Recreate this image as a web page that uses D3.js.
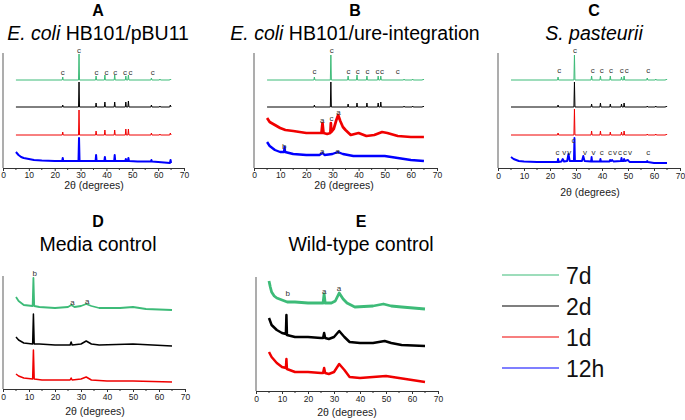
<!DOCTYPE html>
<html><head><meta charset="utf-8">
<script src="https://cdn.jsdelivr.net/npm/d3@7/dist/d3.min.js"></script>
<style>body{margin:0;background:#fff}svg{display:block}text{font-family:Arial,"Liberation Sans",sans-serif}</style>
</head><body>
<svg id="chart" width="685" height="420"></svg>
<script>
// ---------- DATA (2θ in degrees, intensity in a.u.) ----------
const seriesNames = ["7d", "2d", "1d", "12h"];
const xTicks = [0, 10, 20, 30, 40, 50, 60, 70];
const axisTitle = "2θ (degrees)";

// Panel A: E. coli HB101/pBU11
const A_7d = [[5,88],[22.9,88],[23.1,91],[23.3,88],[29.2,88],[29.4,114],[29.6,88],[35.8,88],[36,92],[36.2,88],[39.2,88],[39.4,93],[39.6,88],[43,88],[43.2,93],[43.4,88],[47.3,88],[47.5,92],[47.7,88],[48.3,88],[48.5,93],[48.7,88],[57.2,88],[57.4,90],[57.6,88],[60.5,88],[60.7,89],[60.9,88],[64.5,88],[64.7,89],[65,88]];
const A_2d = [[5,61],[22.9,61],[23.1,63],[23.3,61],[29.2,61],[29.4,86],[29.6,61],[35.8,61],[36,65],[36.2,61],[39.2,61],[39.4,66],[39.6,61],[43,61],[43.2,66],[43.4,61],[47.3,61],[47.5,66],[47.7,61],[48.3,61],[48.5,67],[48.7,61],[57.2,61],[57.4,63],[57.6,61],[60.5,61],[60.7,62],[60.9,61],[64.5,61],[64.7,63],[65,61]];
const A_1d = [[5,33],[22.9,33],[23.1,36],[23.3,33],[29.2,33],[29.4,58],[29.6,33],[35.8,33],[36,37],[36.2,33],[39.2,33],[39.4,38],[39.6,33],[43,33],[43.2,38],[43.4,33],[47.3,33],[47.5,39],[47.7,33],[48.3,33],[48.5,39],[48.7,33],[57.2,33],[57.4,35],[57.6,33],[60.5,33],[60.7,34],[60.9,33],[64.5,33],[64.7,35],[65,33]];
const A_12h = [[5,16],[6,13],[7,11],[8,10],[10,9],[12,8],[15,7.5],[20,7],[22.9,7],[23.1,10],[23.3,7],[29.2,7],[29.4,30],[29.6,7],[35.8,7],[36,13],[36.2,7],[39.2,7],[39.4,11],[39.6,7],[43,7],[43.2,13],[43.4,7],[47.3,7],[47.5,9],[47.7,7],[48.3,7],[48.5,10],[48.7,7],[52,6.5],[57.2,6.5],[57.4,8],[57.6,6.5],[60,6],[64.6,5],[64.8,8],[65,5]];
const A_labels = [[29.4,118,"c"],[23.1,96,"c"],[36.2,96,"c"],[40.0,96,"c"],[43.4,96,"c"],[47.2,96,"c"],[49.3,96,"c"],[57.9,96,"c"]];

// Panel B: E. coli HB101/ure-integration
const B_7d = [[5,88],[22.9,88],[23.1,91],[23.3,88],[29.2,88],[29.4,113],[29.6,88],[35.8,88],[36,92],[36.2,88],[39.2,88],[39.4,93],[39.6,88],[43,88],[43.2,92],[43.4,88],[47.3,88],[47.5,92],[47.7,88],[48.3,88],[48.5,92],[48.7,88],[57.2,88],[57.4,89],[57.6,88],[60.5,88],[60.7,89],[60.9,88],[64.5,88],[64.7,89],[65,88]];
const B_2d = [[5,61],[22.9,61],[23.1,63],[23.3,61],[29.2,61],[29.4,86],[29.6,61],[35.8,61],[36,64],[36.2,61],[39.2,61],[39.4,65],[39.6,61],[43,61],[43.2,65],[43.4,61],[47.3,61],[47.5,65],[47.7,61],[48.3,61],[48.5,66],[48.7,61],[57.2,61],[57.4,62],[57.6,61],[60.5,61],[60.7,62],[60.9,61],[64.5,61],[64.7,62],[65,61]];
const B_1d = [[5,50],[6,46],[8,43],[10,40],[12,38],[15,37],[20,35],[25,35],[25.8,35],[26.2,45],[26.6,35],[28,34],[29.2,35],[29.4,45],[29.6,36],[30.5,39],[31.5,48],[32.2,53],[33,47],[34,41],[35,38],[37,33],[40,35],[43,32],[46,33],[49,36],[51,35],[55,32],[60,31],[65,31]];
const B_12h = [[5,26],[6,22],[8,18],[10,16],[11.5,16],[11.7,21],[11.9,16],[15,14],[20,13],[25,13],[26.2,15],[27,13],[30,14],[32,16],[34,14],[38,12],[45,12],[50,12],[55,10],[60,8],[65,7]];
const B_labels = [[29.7,118,"c"],[23.1,97,"c"],[36.1,97,"c"],[39.7,97,"c"],[43.4,97,"c"],[47.2,97,"c"],[49.0,97,"c"],[55.0,97,"c"],
                  [26.1,48,"a"],[29.6,50,"c"],[32.3,56,"a"],[11.6,22,"b"],[26.1,17,"a"],[32.0,17,"a"]];

// Panel C: S. pasteurii
const C_7d = [[5,88],[22.9,88],[23.1,91],[23.3,88],[29.2,88],[29.4,113],[29.6,88],[35.8,88],[36,92],[36.2,88],[39.2,88],[39.4,92],[39.6,88],[43,88],[43.2,92],[43.4,88],[47.3,88],[47.5,91],[47.7,88],[48.3,88],[48.5,92],[48.7,88],[57.2,88],[57.4,90],[57.6,88],[60.5,88],[60.7,89],[60.9,88],[64.5,88],[64.7,89],[65,88]];
const C_2d = [[5,61],[22.9,61],[23.1,63],[23.3,61],[29.2,61],[29.4,86],[29.6,61],[35.8,61],[36,64],[36.2,61],[39.2,61],[39.4,65],[39.6,61],[43,61],[43.2,64],[43.4,61],[47.3,61],[47.5,64],[47.7,61],[48.3,61],[48.5,65],[48.7,61],[57.2,61],[57.4,62],[57.6,61],[60.5,61],[60.7,62],[60.9,61],[64.5,61],[64.7,62],[65,61]];
const C_1d = [[5,33],[22.9,33],[23.1,35],[23.3,33],[29.2,33],[29.4,59],[29.6,33],[35.8,33],[36,37],[36.2,33],[39.2,33],[39.4,37],[39.6,33],[43,33],[43.2,36],[43.4,33],[47.3,33],[47.5,36],[47.7,33],[48.3,33],[48.5,37],[48.7,33],[57.2,33],[57.4,34],[57.6,33],[60.5,33],[60.7,34],[60.9,33],[64.5,33],[64.7,34],[65,33]];
const C_12h = [[5,11],[6,9],[8,7],[10,6.5],[15,6],[22.9,6],[23.1,9],[23.3,6],[24.4,6.5],[24.9,9],[25.4,6.5],[26.6,7],[27.1,14],[27.6,7],[29.2,7],[29.4,30],[29.6,7],[32.3,7],[32.8,12],[33.3,7],[35.8,6.5],[36,11],[36.2,6.5],[39.2,6.5],[39.4,9],[39.6,6.5],[42.9,6.5],[43.1,8],[43.5,7],[43.9,8],[44.4,6.5],[47.3,7],[47.5,10],[47.7,7],[48.3,7],[48.5,9],[48.8,7],[50,8],[50.6,6],[57.2,6],[57.4,7],[57.6,6],[60,5],[65,5]];
const C_labels = [[29.6,118,"c"],[23.6,98,"c"],[36.4,98,"c"],[39.9,98,"c"],[43.5,98,"c"],[47.6,98,"c"],[49.5,98,"c"],[57.8,98,"c"],
                  [29.0,28,"c"],[22.9,16,"c"],[25.5,16,"v"],[27.4,16,"v"],[33.5,16,"v"],[36.7,16,"v"],[39.9,16,"c"],[43.1,16,"c"],[45.0,16,"v"],[46.9,16,"c"],[48.8,16,"c"],[50.8,16,"v"],[57.8,16,"c"]];

// Panel D: Media control
const D_7d = [[5,92],[6,88],[8,84],[11.4,83],[11.7,111],[12,83],[14,82],[20,81],[25,82],[26.3,84],[27.5,82],[30,83],[32,85],[34,83],[37,81],[45,81],[50,82],[55,80],[65,79]];
const D_2d = [[5,52],[6,49],[8,46],[11.4,45],[11.7,75],[12,45],[14,45],[20,44],[25.8,44],[26.2,47],[26.6,44],[30,45],[32,48],[34,45],[37,44],[50,45],[65,43]];
const D_1d = [[5,15],[6,13],[8,11],[11.4,10],[11.7,39],[12,10],[15,9],[25.8,9],[26.2,11],[26.6,9],[30,10],[32,12],[34,9],[40,8],[50,8],[65,7]];
const D_labels = [[12.2,116,"b"],[26.7,87,"a"],[32.4,88,"a"]];

// Panel E: Wild-type control
const E_7d = [[5,110],[5.5,104],[6,99],[7,95],[8,93],[10,91],[12,89],[15,89],[20,88],[25,88],[25.8,88],[26.2,97],[26.6,88],[29,88],[30.5,90],[32,98],[33.5,92],[35,88],[38,84],[45,85],[49,87],[52,85],[56,84],[65,82]];
const E_2d = [[5,73],[6,66],[8,61],[10,58],[11.5,57],[11.7,76],[11.9,56],[15,54],[20,54],[25,53],[25.8,53],[26.2,58],[26.6,53],[28,52],[30,54],[32,60],[34,54],[36,49],[40,48],[45,48],[49.5,50],[52,48],[56,46],[65,45]];
const E_1d = [[5,39],[6,34],[8,28],[10,24],[11.5,23],[11.7,32],[11.9,22],[15,19],[20,19],[25,18],[25.8,18],[26.2,23],[26.6,18],[28,17],[30,19],[32,27],[34,21],[36,14],[40,13],[45,14],[50,15],[55,13],[65,9]];
const E_labels = [[12.2,98,"b"],[26.2,100,"a"],[31.9,103,"a"]];

// ---------- LAYOUT ----------
const colors = {"7d":"#3dbb78","2d":"#000000","1d":"#f00000","12h":"#0000ff"};
const svg = d3.select("#chart");

const panels = [
  {id:"A", sub:[["E. coli","italic"],[" HB101/pBU11","normal"]], cx:98, x0:3, x1:184, yb:168, yt:53, titleY:16, subY:39.5, tickY:178, axY:189, axX:94,
   series:[["7d",A_7d,1],["2d",A_2d,1],["1d",A_1d,1],["12h",A_12h,2]], labels:A_labels},
  {id:"B", sub:[["E. coli","italic"],[" HB101/ure-integration","normal"]], cx:355, x0:254, x1:437, yb:168, yt:53, titleY:16, subY:39.5, tickY:178, axY:189, axX:344,
   series:[["7d",B_7d,1],["2d",B_2d,1],["1d",B_1d,2.7],["12h",B_12h,2.4]], labels:B_labels},
  {id:"C", sub:[["S. pasteurii","italic"]], cx:594, x0:498, x1:680, yb:168, yt:53, titleY:16, subY:39.5, tickY:179, axY:196, axX:590,
   series:[["7d",C_7d,1],["2d",C_2d,1],["1d",C_1d,1],["12h",C_12h,1.9]], labels:C_labels},
  {id:"D", sub:[["Media control","normal"]], cx:98, x0:3, x1:185, yb:389, yt:276, titleY:227, subY:251, tickY:400, axY:415, axX:95,
   series:[["7d",D_7d,1.8],["2d",D_2d,1.5],["1d",D_1d,1.5]], labels:D_labels},
  {id:"E", sub:[["Wild-type control","normal"]], cx:361, x0:256, x1:438, yb:391, yt:277, titleY:227, subY:251, tickY:402, axY:416, axX:347,
   series:[["7d",E_7d,2.8],["2d",E_2d,2.5],["1d",E_1d,2.5]], labels:E_labels}
];

panels.forEach(p => {
  const g = svg.append("g");
  const x = d3.scaleLinear().domain([0,70]).range([p.x0,p.x1]);
  const y = d3.scaleLinear().domain([0,p.yb-p.yt]).range([p.yb,p.yt]);

  g.append("text").attr("x",p.cx).attr("y",p.titleY).attr("text-anchor","middle")
    .attr("font-size",16).attr("font-weight","bold").text(p.id);
  const st = g.append("text").attr("x",p.cx).attr("y",p.subY).attr("text-anchor","middle").attr("font-size",19.5);
  p.sub.forEach(s => st.append("tspan").attr("font-style",s[1]).text(s[0]));

  // y axis (plain grey line)
  g.append("line").attr("x1",p.x0).attr("x2",p.x0).attr("y1",p.yt).attr("y2",p.yb)
    .attr("stroke","#8a8a8a").attr("stroke-width",1.4);

  // x axis
  const ax = g.append("g").attr("transform",`translate(0,${p.yb})`)
    .call(d3.axisBottom(x).tickValues(xTicks).tickSize(3).tickSizeOuter(0).tickPadding(1));
  ax.select(".domain").attr("stroke","#333");
  ax.selectAll(".tick line").attr("stroke","#333");
  ax.selectAll(".tick text").attr("font-size",8.5).attr("fill","#222").attr("y",null).attr("dy",null)
    .attr("transform",`translate(0,${p.tickY-p.yb})`);
  ax.selectAll(".minor").data(d3.range(5,70,10)).enter().append("line")
    .attr("x1",d=>x(d)).attr("x2",d=>x(d)).attr("y1",0).attr("y2",2).attr("stroke","#333");
  g.append("text").attr("x",p.axX).attr("y",p.axY).attr("text-anchor","middle")
    .attr("font-size",10.5).attr("fill","#222").text(axisTitle);

  const line = d3.line().x(d=>x(d[0])).y(d=>y(d[1]));
  p.series.forEach(([name,data,w]) => {
    g.append("path").datum(data).attr("d",line).attr("fill","none")
      .attr("stroke",colors[name]).attr("stroke-width",w).attr("stroke-linejoin","round");
  });

  g.selectAll(".lbl").data(p.labels).enter().append("text")
    .attr("x",d=>x(d[0])).attr("y",d=>y(d[1])).attr("dy","0.35em")
    .attr("text-anchor","middle").attr("font-size",8).attr("fill","#333").text(d=>d[2]);
});

// legend
const legY = [275,306,337,368];
const lg = svg.append("g");
seriesNames.forEach((n,i) => {
  lg.append("line").attr("x1",502).attr("x2",559).attr("y1",legY[i]).attr("y2",legY[i])
    .attr("stroke",colors[n]).attr("stroke-width",1.2);
  lg.append("text").attr("x",566).attr("y",legY[i]+8.5).attr("font-size",23).attr("fill","#111").text(n);
});
</script>
</body></html>
